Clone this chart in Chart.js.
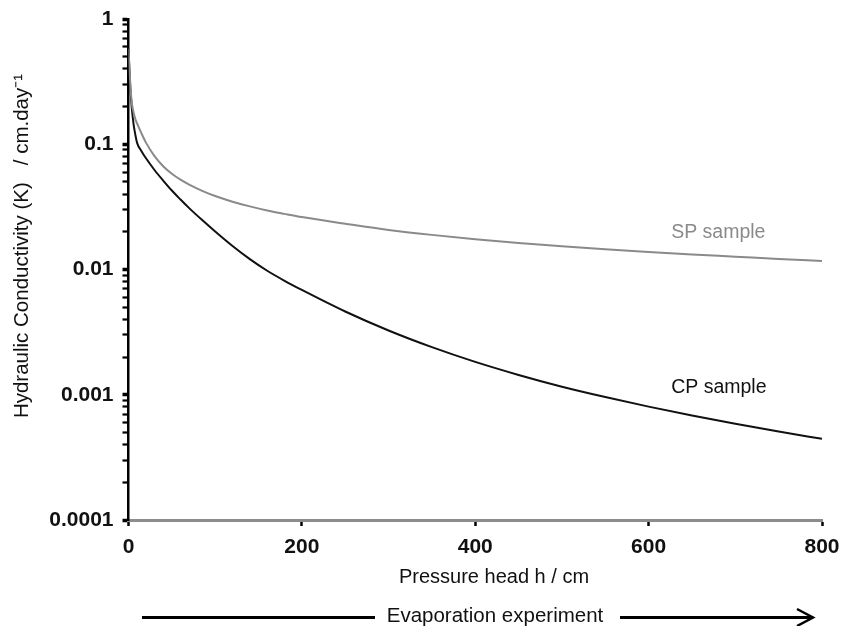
<!DOCTYPE html>
<html>
<head>
<meta charset="utf-8">
<script src="https://cdn.jsdelivr.net/npm/chart.js@4.4.1/dist/chart.umd.min.js"></script>
<style>
  html, body { margin: 0; padding: 0; background: #ffffff; }
  #wrap { width: 842px; height: 626px; position: relative; }
</style>
</head>
<body>
<div id="wrap"><canvas id="c" width="842" height="626"></canvas></div>
<script>
// ---- data ----
const pressureHead = [0, 1, 2, 3, 4, 6, 8, 10, 15, 20, 30, 40, 50, 60, 70, 85, 100, 120, 140, 160, 180, 200, 250, 300, 350, 400, 450, 500, 550, 600, 650, 700, 750, 800];
const spSample = [0.579, 0.417, 0.309, 0.245, 0.209, 0.178, 0.158, 0.146, 0.122, 0.1035, 0.0804, 0.0668, 0.0582, 0.0521, 0.0476, 0.0425, 0.0386, 0.0348, 0.0319, 0.0296, 0.0278, 0.0262, 0.0232, 0.0207, 0.0189, 0.01746, 0.0163, 0.0153, 0.01449, 0.0138, 0.01318, 0.01265, 0.01213, 0.01169];
const cpSample = [0.579, 0.40, 0.29, 0.229, 0.188, 0.142, 0.118, 0.102, 0.0881, 0.0776, 0.0623, 0.0513, 0.0427, 0.0362, 0.0309, 0.0248, 0.0201, 0.0154, 0.0121, 0.00977, 0.00813, 0.00687, 0.00462, 0.00326, 0.00240, 0.00183, 0.00144, 0.00116, 0.000959, 0.000804, 0.000682, 0.000586, 0.000508, 0.000445];
const seriesNames = ['SP sample', 'CP sample'];
const xTickValues = [0, 200, 400, 600, 800];
const yMajorTicks = [0.0001, 0.001, 0.01, 0.1, 1];
const yTickLabels = ['0.0001', '0.001', '0.01', '0.1', '1'];
const xTitle = 'Pressure head h / cm';
const yTitle = 'Hydraulic Conductivity (K)   / cm.day\u207B\u00B9';
const arrowText = 'Evaporation experiment';
// label anchor (data coordinates) for the curve names
const seriesLabelAt = [[626, 0.0197], [626, 0.00114]];

// ---- build ----
const FONT = '"Liberation Sans", Arial, Helvetica, sans-serif';
const yTicksAll = [];
for (let i = 0; i < yMajorTicks.length - 1; i++) {
  for (let k = 1; k <= 9; k++) yTicksAll.push({ value: +(yMajorTicks[i] * k).toPrecision(3), major: k === 1 });
}
yTicksAll.push({ value: yMajorTicks[yMajorTicks.length - 1], major: true });

const toPts = arr => pressureHead.map((h, i) => ({ x: h, y: arr[i] }));

const overlay = {
  id: 'overlay',
  afterDraw(chart) {
    const ctx = chart.ctx;
    const xs = chart.scales.x, ys = chart.scales.y;
    ctx.save();
    // series name labels
    ctx.font = '19.5px ' + FONT;
    ctx.textAlign = 'left';
    ctx.textBaseline = 'middle';
    const cols = ['#8a8a8a', '#111111'];
    seriesNames.forEach((n, i) => {
      ctx.fillStyle = cols[i];
      ctx.fillText(n, xs.getPixelForValue(seriesLabelAt[i][0]), ys.getPixelForValue(seriesLabelAt[i][1]));
    });
    // x title
    ctx.fillStyle = '#111111';
    ctx.font = '20px ' + FONT;
    ctx.textAlign = 'center';
    ctx.fillText(xTitle, 494, 577);
    // arrow text
    ctx.font = '20.5px ' + FONT;
    ctx.fillText(arrowText, 495, 616);
    // arrow
    ctx.strokeStyle = '#000';
    ctx.lineWidth = 3;
    ctx.beginPath();
    ctx.moveTo(142, 617.5); ctx.lineTo(375, 617.5);
    ctx.moveTo(620, 617.5); ctx.lineTo(812, 617.5);
    ctx.stroke();
    ctx.lineWidth = 2.5;
    ctx.beginPath();
    ctx.moveTo(797, 609); ctx.lineTo(813, 617.5); ctx.lineTo(797, 626);
    ctx.stroke();
    // y title
    ctx.translate(22, 246);
    ctx.rotate(-Math.PI / 2);
    ctx.font = '20.5px ' + FONT;
    ctx.textAlign = 'center';
    ctx.textBaseline = 'middle';
    ctx.fillText(yTitle, 0, 0);
    ctx.restore();
  }
};

const zeroPad = s => { s.paddingLeft = 0; s.paddingRight = 0; s.paddingTop = 0; s.paddingBottom = 0; };

new Chart(document.getElementById('c'), {
  type: 'line',
  data: {
    datasets: [
      { label: seriesNames[0], data: toPts(spSample), borderColor: '#8a8a8a', borderWidth: 2, pointRadius: 0, fill: false, cubicInterpolationMode: 'monotone' },
      { label: seriesNames[1], data: toPts(cpSample), borderColor: '#111111', borderWidth: 2, pointRadius: 0, fill: false, cubicInterpolationMode: 'monotone' }
    ]
  },
  options: {
    responsive: false,
    animation: false,
    devicePixelRatio: 1,
    layout: { padding: { left: 0, right: 20, top: 19, bottom: 0 } },
    plugins: { legend: { display: false }, tooltip: { enabled: false } },
    scales: {
      x: {
        type: 'linear', min: 0, max: 800,
        afterBuildTicks: s => { s.ticks = xTickValues.map(v => ({ value: v })); },
        afterFit: s => { s.height = 106; zeroPad(s); },
        grid: { drawOnChartArea: false, drawTicks: true, tickLength: 6, tickColor: '#000', tickWidth: 2.5 },
        border: { color: '#8c8c8c', width: 3 },
        ticks: { color: '#111', font: { family: FONT, size: 21, weight: 'bold' }, padding: 9, maxRotation: 0, autoSkip: false }
      },
      y: {
        type: 'logarithmic', min: 0.0001, max: 1,
        afterBuildTicks: s => { s.ticks = yTicksAll.map(t => ({ value: t.value, major: t.major })); },
        afterFit: s => { s.width = 128.5; zeroPad(s); },
        grid: { drawOnChartArea: false, drawTicks: true, tickLength: 6, tickColor: '#000',
                tickWidth: c => (c.tick && c.tick.major) ? 3.5 : 2.2 },
        border: { color: '#000', width: 2.5 },
        ticks: {
          color: '#111', font: { family: FONT, size: 21, weight: 'bold' }, padding: 9, autoSkip: false,
          callback: (v) => { const i = yMajorTicks.findIndex(m => Math.abs(m - v) / m < 1e-6); return i >= 0 ? yTickLabels[i] : ''; }
        }
      }
    }
  },
  plugins: [overlay]
});
</script>
</body>
</html>
